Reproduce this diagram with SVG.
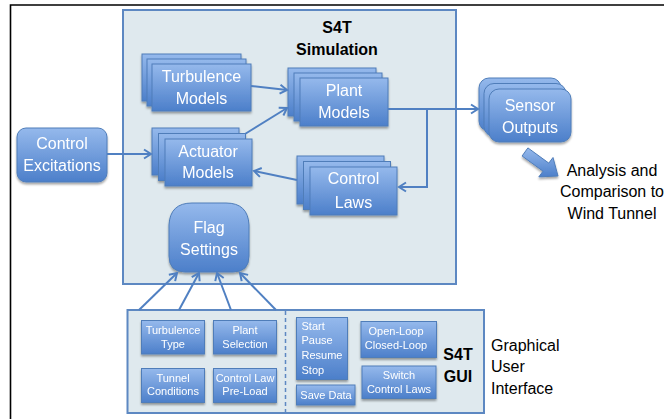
<svg xmlns="http://www.w3.org/2000/svg" width="664" height="419" viewBox="0 0 664 419">
<defs>
<linearGradient id="g" x1="0" y1="0" x2="0" y2="1">
<stop offset="0" stop-color="#95b9ec"/>
<stop offset="1" stop-color="#4c7fca"/>
</linearGradient>
<filter id="sh" x="-20%" y="-20%" width="140%" height="150%">
<feDropShadow dx="0" dy="2" stdDeviation="1.2" flood-color="#000" flood-opacity="0.35"/>
</filter>
<marker id="ah" markerUnits="userSpaceOnUse" markerWidth="12" markerHeight="12" refX="8" refY="5" orient="auto" viewBox="0 0 12 10">
<path d="M1,0.5 L8,5 L1,9.5" fill="none" stroke="#5080c2" stroke-width="2"/>
</marker>
</defs>
<style>
.box{fill:url(#g);stroke:#4f7db9;stroke-width:1}
.pane{fill:#dfe9ee;stroke:#5d88c2;stroke-width:2}
.wt{fill:#fff;font-family:"Liberation Sans",Arial,sans-serif;font-size:16px;text-anchor:middle}
.ws{fill:#fff;font-family:"Liberation Sans",Arial,sans-serif;font-size:11px;text-anchor:middle}
.bt{fill:#000;font-family:"Liberation Sans",Arial,sans-serif;font-size:16px}
.bb{fill:#000;font-family:"Liberation Sans",Arial,sans-serif;font-size:16px;font-weight:bold;text-anchor:middle}
.cn{fill:none;stroke:#5080c2;stroke-width:2;marker-end:url(#ah)}
</style>
<rect width="664" height="419" fill="#fff"/>
<path d="M10.5,419 L10.5,5 L664,5" fill="none" stroke="#000" stroke-width="1.6"/>

<g id="simulation">
<rect class="pane" x="123" y="10" width="333" height="274"/>
<text class="bb" x="337" y="33">S4T</text>
<text class="bb" x="337" y="55">Simulation</text>
</g>

<g id="gui">
<rect class="pane" x="127.5" y="310" width="356.5" height="103"/>
<line x1="285.5" y1="311" x2="285.5" y2="412" stroke="#5d88c2" stroke-width="1.5" stroke-dasharray="4,3"/>
<text class="bb" x="458" y="359.5">S4T</text>
<text class="bb" x="458" y="381.5">GUI</text>
</g>

<g id="control-excitations" filter="url(#sh)">
<rect class="box" x="17" y="128" width="90" height="54" rx="9"/>
<text class="wt" x="62" y="149">Control</text>
<text class="wt" x="62" y="171">Excitations</text>
</g>

<g id="turbulence-models" filter="url(#sh)">
<rect class="box" x="142" y="54" width="99" height="47"/>
<rect class="box" x="147" y="59" width="99" height="47"/>
<rect class="box" x="152" y="64" width="99" height="47"/>
<text class="wt" x="201.5" y="82">Turbulence</text>
<text class="wt" x="201.5" y="104">Models</text>
</g>

<g id="plant-models" filter="url(#sh)">
<rect class="box" x="288" y="68" width="88" height="48"/>
<rect class="box" x="294" y="73" width="88" height="48"/>
<rect class="box" x="300" y="78" width="88" height="48"/>
<text class="wt" x="344" y="96">Plant</text>
<text class="wt" x="344" y="118">Models</text>
</g>

<g id="actuator-models" filter="url(#sh)">
<rect class="box" x="152" y="128" width="87" height="47"/>
<rect class="box" x="158.5" y="133.5" width="87" height="47"/>
<rect class="box" x="165" y="139" width="87" height="47"/>
<text class="wt" x="208" y="156.5">Actuator</text>
<text class="wt" x="208" y="177.5">Models</text>
</g>

<g id="control-laws" filter="url(#sh)">
<rect class="box" x="297" y="156" width="87" height="48"/>
<rect class="box" x="303.5" y="161.5" width="87" height="48"/>
<rect class="box" x="310" y="167" width="87" height="48"/>
<text class="wt" x="353.5" y="184">Control</text>
<text class="wt" x="353.5" y="207.5">Laws</text>
</g>

<g id="sensor-outputs" filter="url(#sh)">
<rect class="box" x="479" y="78" width="82" height="53" rx="10"/>
<rect class="box" x="484" y="83.5" width="82" height="53" rx="10"/>
<rect class="box" x="489" y="89" width="82" height="53" rx="10"/>
<text class="wt" x="530" y="111">Sensor</text>
<text class="wt" x="530" y="132.5">Outputs</text>
</g>

<g id="flag-settings" filter="url(#sh)">
<path class="box" d="M192,203 L226,203 Q248,203 249,225 L249,256 Q249,272 233,272 L185,272 Q169,272 169,256 L169,225 Q170,203 192,203 Z"/>
<text class="wt" x="209" y="232.5">Flag</text>
<text class="wt" x="209" y="255">Settings</text>
</g>

<g id="turbulence-type" filter="url(#sh)">
<rect class="box" x="141.5" y="320.5" width="63" height="33.5"/>
<text class="ws" x="173" y="334">Turbulence</text>
<text class="ws" x="173" y="347.5">Type</text>
</g>
<g id="plant-selection" filter="url(#sh)">
<rect class="box" x="213.5" y="320.5" width="63" height="33.5"/>
<text class="ws" x="245" y="334">Plant</text>
<text class="ws" x="245" y="347.5">Selection</text>
</g>
<g id="tunnel-conditions" filter="url(#sh)">
<rect class="box" x="141.5" y="368.5" width="63" height="34"/>
<text class="ws" x="173" y="381.5">Tunnel</text>
<text class="ws" x="173" y="395">Conditions</text>
</g>
<g id="control-law-preload" filter="url(#sh)">
<rect class="box" x="213.5" y="368.5" width="63" height="34"/>
<text class="ws" x="245" y="381.5">Control Law</text>
<text class="ws" x="245" y="395">Pre-Load</text>
</g>
<g id="start-pause" filter="url(#sh)">
<rect class="box" x="296.5" y="317.5" width="51" height="62"/>
<text class="ws" x="301.5" y="330" style="text-anchor:start">Start</text>
<text class="ws" x="301.5" y="344" style="text-anchor:start">Pause</text>
<text class="ws" x="301.5" y="359" style="text-anchor:start">Resume</text>
<text class="ws" x="301.5" y="373.5" style="text-anchor:start">Stop</text>
</g>
<g id="save-data" filter="url(#sh)">
<rect class="box" x="296.5" y="385" width="58.5" height="20"/>
<text class="ws" x="326" y="398.5">Save Data</text>
</g>
<g id="open-closed-loop" filter="url(#sh)">
<rect class="box" x="361" y="321.5" width="75.5" height="36"/>
<text class="ws" x="396" y="335">Open-Loop</text>
<text class="ws" x="396" y="348.5">Closed-Loop</text>
</g>
<g id="switch-control-laws" filter="url(#sh)">
<rect class="box" x="362" y="366" width="74" height="32.5"/>
<text class="ws" x="399" y="379">Switch</text>
<text class="ws" x="399" y="392.5">Control Laws</text>
</g>

<g id="analysis">
<polygon points="527.9,147.9 548.8,163.1 553,157.5 558,176 538.8,176.9 543,171.2 522.1,156" fill="url(#g)" stroke="#4f7db9" stroke-width="1" filter="url(#sh)"/>
<text class="bt" x="612" y="175.5" text-anchor="middle">Analysis and</text>
<text class="bt" x="612" y="197" text-anchor="middle">Comparison to</text>
<text class="bt" x="612" y="218.5" text-anchor="middle">Wind Tunnel</text>
</g>

<g id="gui-label">
<text class="bt" x="491" y="350.5">Graphical</text>
<text class="bt" x="491" y="372">User</text>
<text class="bt" x="491" y="394">Interface</text>
</g>

<g id="connectors">
<line class="cn" x1="251" y1="86" x2="287" y2="90"/>
<line class="cn" x1="245" y1="134" x2="287" y2="108"/>
<line class="cn" x1="107" y1="154" x2="151" y2="154"/>
<line class="cn" x1="297" y1="180" x2="254" y2="171"/>
<line class="cn" x1="388" y1="109" x2="478" y2="109"/>
<polyline class="cn" points="427,109 427,187 399,187"/>
<line class="cn" x1="139" y1="310" x2="177" y2="273"/>
<line class="cn" x1="179" y1="310" x2="199" y2="273"/>
<line class="cn" x1="231" y1="310" x2="217" y2="273"/>
<line class="cn" x1="276" y1="310" x2="240" y2="273"/>
</g>
</svg>
